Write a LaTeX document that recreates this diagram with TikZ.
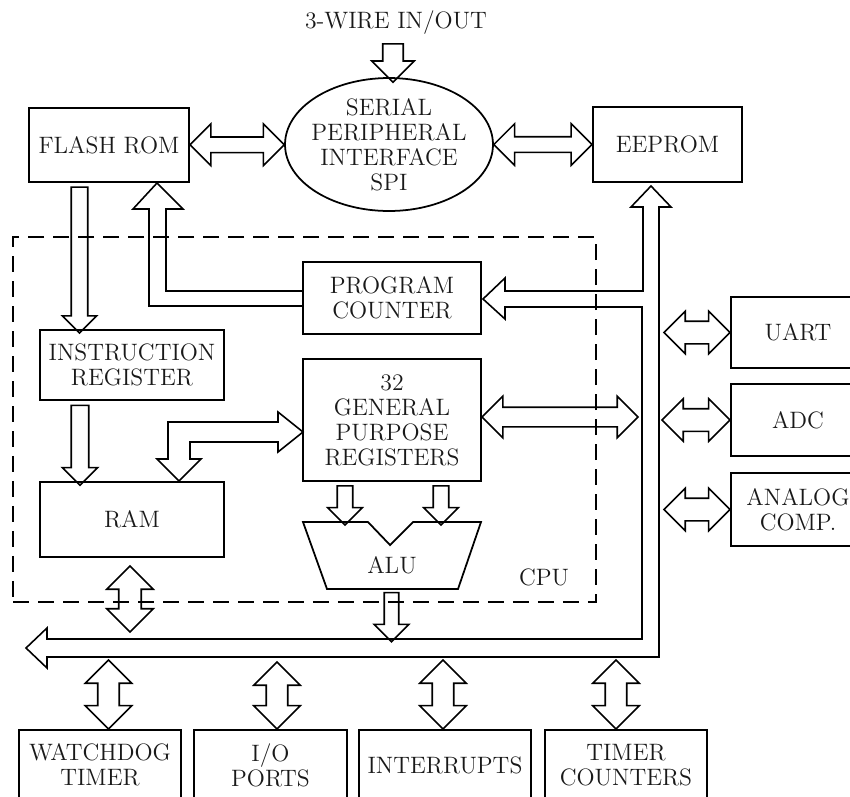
\documentclass[tikz,border=0pt]{standalone}
\usetikzlibrary{shapes.geometric,shapes.arrows,calc}

\tikzset{
  block/.style={draw, line width=1.2pt, inner sep=0pt, align=center},
  fatline/.style={draw, line width=0.9pt, line join=miter},
  fatone/.style n args={2}{single arrow, fatline, minimum width=0pt,
    inner sep={#1*0.01cm}, single arrow head extend={(#2-#1)*0.01cm},
    single arrow tip angle=90, shape border rotate=270},
  fattwo/.style n args={2}{double arrow, fatline, minimum width=0pt,
    inner sep={#1*0.01cm}, double arrow head extend={(#2-#1)*0.01cm},
    double arrow tip angle=90}
}
% fat block arrow between two points
\newcommand{\fatlink}[4][]{%
  \path let \p1=(#3), \p2=(#4), \n1={veclen(\x2-\x1,\y2-\y1)} in
    node[#1, minimum height=\n1] (#2) at ($(\p1)!0.5!(\p2)$) {};}

\begin{document}
\begin{tikzpicture}[x=0.02cm, y=-0.02cm,
  every node/.append style={font=\fontsize{13.5}{14.2}\selectfont, text=black!90}]
    \useasboundingbox (0,0) rectangle (850,796);
    \clip (0,0) rectangle (850,796);

    \node[draw, line width=1pt, dash pattern=on 0.32cm off 0.18cm,
      minimum width=11.66cm, minimum height=7.3cm] (cpu) at (304.5,419.5) {};
    \node (cpulabel) at (544,577) {CPU};

    \node[inner sep=2pt] (wire) at (396,23) {3-WIRE IN/OUT};
    \node[block, minimum width=3.2cm, minimum height=1.48cm] (flash) at (109,145) {FLASH ROM};
    \node[ellipse, draw, line width=1pt, inner sep=0pt, minimum width=4.16cm, minimum height=2.66cm,
      label={[align=center]center:SERIAL\\PERIPHERAL\\INTERFACE\\SPI}] (spi) at (389,144.5) {};
    \node[block, minimum width=2.98cm, minimum height=1.5cm] (eeprom) at (667.5,144.5) {EEPROM};
    \node[block, minimum width=3.56cm, minimum height=1.44cm] (pc) at (392,298) {PROGRAM\\COUNTER};
    \node[block, minimum width=3.68cm, minimum height=1.4cm] (ir) at (132,365) {INSTRUCTION\\REGISTER};
    \node[block, minimum width=3.56cm, minimum height=2.44cm] (gpr) at (392,420) {32\\GENERAL\\PURPOSE\\REGISTERS};
    \node[block, minimum width=3.68cm, minimum height=1.5cm] (ram) at (132,519.5) {RAM};
    \node[block, minimum width=2.68cm, minimum height=1.42cm] (uart) at (798,332.5) {UART};
    \node[block, minimum width=2.68cm, minimum height=1.44cm] (adc) at (798,420) {ADC};
    \node[block, minimum width=2.68cm, minimum height=1.46cm] (ana) at (798,509.5) {ANALOG\\COMP.};
    \node[block, minimum width=3.24cm, minimum height=1.4cm] (wd) at (100,765) {WATCHDOG\\TIMER};
    \node[block, minimum width=3.06cm, minimum height=1.4cm] (io) at (270.5,765) {I/O\\PORTS};
    \node[block, minimum width=3.44cm, minimum height=1.4cm] (intr) at (445,765) {INTERRUPTS};
    \node[block, minimum width=3.24cm, minimum height=1.4cm] (tmr) at (626,765) {TIMER\\COUNTERS};

    % ALU
    \draw[line width=1pt, line join=miter] (303,522) -- (368,522) -- (390,545) -- (413,522)
      -- (481,522) -- (458,589) -- (327,589) -- cycle;
    \node (alu) at (392,565) {ALU};

    % data bus
    \draw[fatline] (26,648) -- (47,628) -- (47,639) -- (642,639) -- (642,307) -- (505,307)
      -- (505,319) -- (483,299) -- (505,278) -- (505,291) -- (643,291) -- (643,207)
      -- (631,207) -- (651,186) -- (671,207) -- (659,207) -- (659,657) -- (47,657)
      -- (47,668) -- cycle;

    % program counter to flash
    \draw[fatline] (302,306) -- (149,306) -- (149,209) -- (133,209) -- (157,183)
      -- (183,209) -- (166,209) -- (166,291) -- (302,291);
    % registers to ram
    \draw[fatline] (303,432) -- (278,412) -- (278,422) -- (168,422) -- (168,459)
      -- (157,459) -- (179,481) -- (201,459) -- (190,459) -- (190,442) -- (278,442)
      -- (278,452) -- cycle;

    \fatlink[fatone={19}{41}]{wirespi}{393,0 |- wire.south}{393,0 |- spi.north}
    \fatlink[fattwo={14}{40}]{flashspi}{flash.east}{spi.west}
    \fatlink[fattwo={14}{40}]{spieeprom}{spi.east}{eeprom.west}
    \fatlink[fatone={15}{33}]{flashir}{79.5,0 |- flash.south}{79.5,0 |- ir.north}
    \fatlink[fatone={16}{34}]{irram}{80,0 |- ir.south}{80,0 |- ram.north}
    \fatlink[fatone={14}{33}]{gpralua}{345,0 |- gpr.south}{345,521}
    \fatlink[fatone={14}{33}]{gpralub}{441,0 |- gpr.south}{441,521}
    \fatlink[fatone={13}{33}]{alubus}{391.5,589}{391.5,638}
    \fatlink[fattwo={18}{40}]{gprbus}{gpr.east |- 0,417}{638,417}
    \fatlink[fattwo={21}{45}, shape border rotate=90]{rambus}{130,566}{130,632}
    \fatlink[fattwo={21}{41}]{uartbus}{664,0 |- uart.west}{uart.west}
    \fatlink[fattwo={21}{41}]{adcbus}{662,0 |- adc.west}{adc.west}
    \fatlink[fattwo={21}{41}]{anabus}{664,0 |- ana.west}{ana.west}
    \fatlink[fattwo={20}{45}, shape border rotate=90]{wdbus}{108.5,660}{108.5,0 |- wd.north}
    \fatlink[fattwo={20}{45}, shape border rotate=90]{iobus}{277,662}{277,0 |- io.north}
    \fatlink[fattwo={20}{45}, shape border rotate=90]{intrbus}{443,660}{443,0 |- intr.north}
    \fatlink[fattwo={20}{45}, shape border rotate=90]{tmrbus}{616,660}{616,0 |- tmr.north}
\end{tikzpicture}
\end{document}
